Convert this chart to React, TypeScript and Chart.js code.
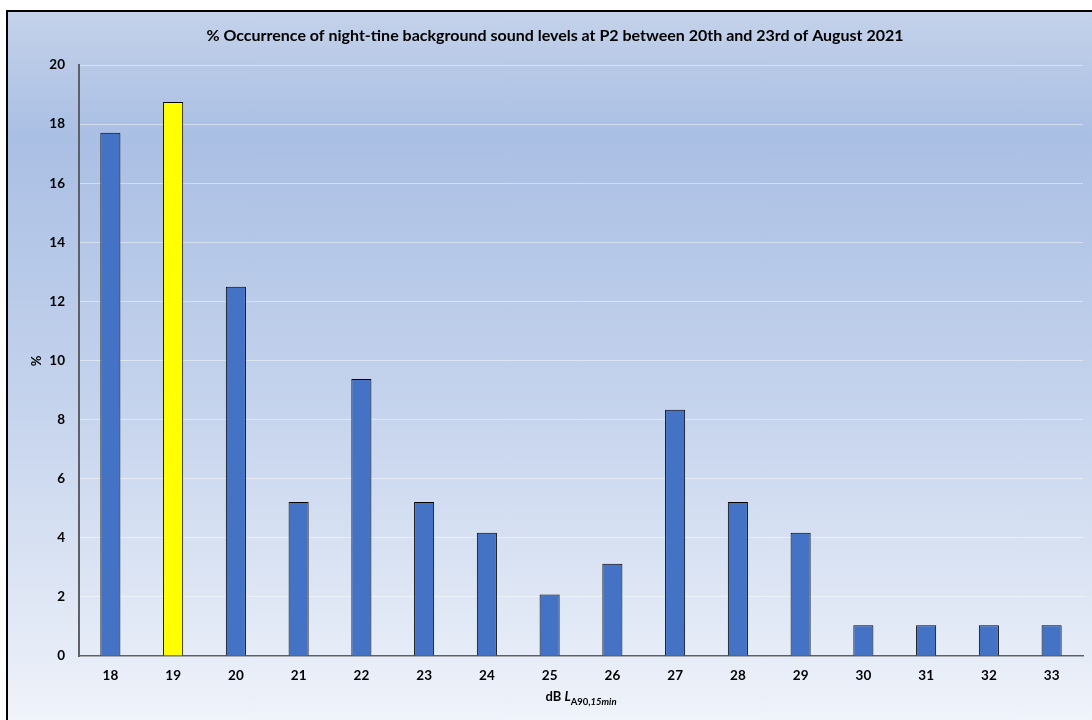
import React, { useEffect, useRef } from "react";
import { Chart, registerables } from "chart.js";

Chart.register(...registerables);

const categories = ["18", "19", "20", "21", "22", "23", "24", "25", "26", "27", "28", "29", "30", "31", "32", "33"];
const occurrence = [17.71, 18.75, 12.5, 5.21, 9.375, 5.21, 4.17, 2.08, 3.125, 8.33, 5.21, 4.17, 1.04, 1.04, 1.04, 1.04];
const barColors = categories.map((c) => (c === "19" ? "#FFFF00" : "#4472C4"));
const yTicks = [0, 2, 4, 6, 8, 10, 12, 14, 16, 18, 20];
const titleText = "% Occurrence of night-tine background sound levels at P2 between 20th and 23rd of August 2021";
const yTitle = "%";

const FONT = "Lato, 'Open Sans', sans-serif";

const textPlugin = {
  id: "customText",
  afterDraw(chart: any) {
    const ctx = chart.ctx as CanvasRenderingContext2D;
    const area = chart.chartArea;
    ctx.save();
    ctx.fillStyle = "#000";
    // title
    ctx.font = `bold 16px ${FONT}`;
    ctx.textAlign = "center";
    ctx.textBaseline = "middle";
    ctx.fillText(titleText, 555, 36);
    // y title
    ctx.save();
    ctx.translate(37, 361);
    ctx.rotate(-Math.PI / 2);
    ctx.font = `bold 13px ${FONT}`;
    ctx.fillText(yTitle, 0, 0);
    ctx.restore();
    // x title rich text
    const parts = [
      { t: "dB ", f: `bold 13px ${FONT}`, dy: 0 },
      { t: "L", f: `italic bold 13px ${FONT}`, dy: 0 },
      { t: "A90,", f: `bold 9.5px ${FONT}`, dy: 4 },
      { t: "15min", f: `italic bold 9.5px ${FONT}`, dy: 4 },
    ];
    let total = 0;
    for (const p of parts) {
      ctx.font = p.f;
      total += ctx.measureText(p.t).width;
    }
    let x = (area.left + area.right) / 2 - total / 2;
    ctx.textAlign = "left";
    ctx.textBaseline = "alphabetic";
    for (const p of parts) {
      ctx.font = p.f;
      ctx.fillText(p.t, x, 701 + p.dy);
      x += ctx.measureText(p.t).width;
    }
    ctx.restore();
  },
};

export default function App() {
  const ref = useRef<HTMLCanvasElement>(null);
  useEffect(() => {
    if (!ref.current) return;
    const chart = new Chart(ref.current, {
      type: "bar",
      data: {
        labels: categories,
        datasets: [
          {
            data: occurrence,
            backgroundColor: barColors,
            borderColor: "#000000",
            borderWidth: 1,
            barPercentage: 0.32,
            categoryPercentage: 1,
          },
        ],
      },
      options: {
        responsive: false,
        animation: false,
        layout: { padding: { left: 0, right: 9, top: 65, bottom: 0 } },
        plugins: { legend: { display: false }, title: { display: false }, tooltip: { enabled: false } },
        scales: {
          x: {
            grid: { display: false, drawTicks: false },
            border: { display: true, color: "#5f5f66", width: 1.5 },
            ticks: { color: "#000", font: { family: FONT, size: 13.5, weight: "bold" }, padding: 12 },
            afterFit(scale: any) {
              scale.height = 64;
            },
          },
          y: {
            min: 0,
            max: 20,
            afterBuildTicks(scale: any) {
              scale.ticks = yTicks.map((v) => ({ value: v }));
            },
            grid: { color: "rgba(255,255,255,0.45)", lineWidth: 1, drawTicks: false },
            border: { display: true, color: "#5f5f66", width: 2 },
            ticks: { color: "#000", font: { family: FONT, size: 13.5, weight: "bold" }, padding: 14 },
            afterFit(scale: any) {
              scale.width = 79;
            },
          },
        },
      },
      plugins: [textPlugin],
    });
    return () => chart.destroy();
  }, []);
  return (
    <div style={{ position: "fixed", left: 0, top: 0, width: 1092, height: 720, background: "#fff", overflow: "hidden" }}>
      <div
        style={{
          position: "absolute",
          left: 6,
          top: 10,
          width: 1100,
          height: 730,
          borderLeft: "2px solid #000",
          borderTop: "2px solid #000",
          background: "linear-gradient(to bottom, #c4d2ea 0%, #aabfe4 17%, #c6d4ed 55%, #f2f5fb 100%)",
        }}
      />
      <canvas ref={ref} width={1092} height={720} style={{ position: "absolute", left: 0, top: 0 }} />
    </div>
  );
}
